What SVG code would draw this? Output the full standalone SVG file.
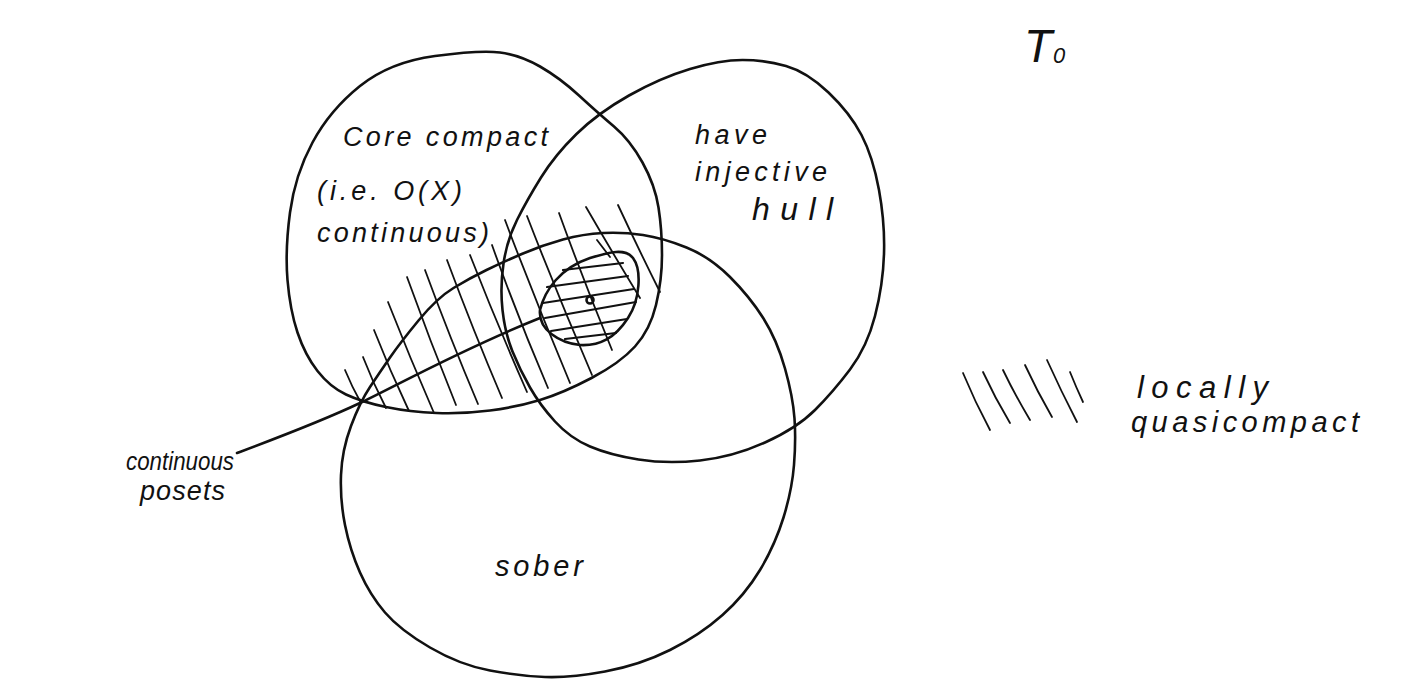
<svg xmlns="http://www.w3.org/2000/svg" width="1406" height="686" viewBox="0 0 1406 686">
<style>
.ln{fill:none;stroke:#111;stroke-width:2.6;stroke-linecap:round;stroke-linejoin:round}
.h{fill:none;stroke:#111;stroke-width:1.8;stroke-linecap:round}
.hx{fill:none;stroke:#111;stroke-width:2.2;stroke-linecap:round}
.t{font-family:"Liberation Sans","DejaVu Sans",sans-serif;font-style:italic;font-size:27px;fill:#111}
</style>
<rect width="1406" height="686" fill="#fff"/>
<g id="title">
<text class="t" x="1024" y="62" style="font-size:46px">T<tspan dx="1" dy="1" style="font-size:22px">0</tspan></text>
</g>
<g id="core-compact">
<path class="ln" d="M 500,52.5 Q 480,50 435,56 Q 390,62 360,86 Q 330,110 312.5,142.5 Q 295,175 290,212.5 Q 285,250 287.5,280 Q 290,310 297.5,332.5 Q 305,355 317.5,371 Q 330,387 346,394.5 Q 362,402 386,407 Q 410,412 436.5,413 Q 463,414 490,410.5 Q 517,407 540,400 Q 563,393 591.5,378 Q 620,363 635,346.5 Q 650,330 656,305 Q 662,280 662,255 Q 662,230 658.5,207.5 Q 655,185 642.5,162.5 Q 630,140 614,126.5 Q 598,113 579,95.5 Q 560,78 540,66.5 Q 520,55 500,52.5 Z"/>
<text class="t" x="343" y="146" textLength="205">Core compact</text>
<text class="t" x="317" y="200" textLength="145">(i.e. O(X)</text>
<text class="t" x="317" y="242" textLength="172">continuous)</text>
</g>
<g id="injective-hull">
<path class="ln" d="M 742.5,60 Q 720,60 690,69 Q 660,78 629,95.5 Q 598,113 576.5,134 Q 555,155 541,177.5 Q 527,200 517,220 Q 507,240 503.5,263.5 Q 500,287 502.5,310 Q 505,333 512.5,351.5 Q 520,370 530,387.5 Q 540,405 555,421.5 Q 570,438 590,446.5 Q 610,455 638.5,459.5 Q 667,464 700,460.5 Q 733,457 765,442.5 Q 797,428 815,410 Q 833,392 850,369.5 Q 867,347 875,316 Q 883,285 884,254 Q 885,223 879,190 Q 873,157 861.5,135 Q 850,113 828.5,92.5 Q 807,72 786,66 Q 765,60 742.5,60 Z"/>
<text class="t" x="695" y="144" textLength="72">have</text>
<text class="t" x="695" y="181" textLength="132">injective</text>
<text class="t" x="752" y="220" textLength="81" style="font-size:32px">hull</text>
</g>
<g id="sober">
<path class="ln" d="M 351,426 Q 360,402 370,387 Q 380,372 390,357.5 Q 400,343 418.5,320.5 Q 437,298 453.5,288 Q 470,278 486.5,270 Q 503,262 523,253.5 Q 543,245 563,239.5 Q 583,234 603,233 Q 623,232 643,235 Q 663,238 686.5,247.5 Q 710,257 730,277 Q 750,297 763.5,318.5 Q 777,340 785,368.5 Q 793,397 794.5,418.5 Q 796,440 794,465 Q 792,490 783.5,517.5 Q 775,545 760,570 Q 745,595 722.5,615 Q 700,635 670,650 Q 640,665 605,671.5 Q 570,678 545,677 Q 520,676 490,670.5 Q 460,665 430,647.5 Q 400,630 385,612.5 Q 370,595 360,572.5 Q 350,550 345,525 Q 340,500 341,475 Q 342,450 351,426 Z"/>
<text class="t" x="495" y="576" textLength="88" style="font-size:29px">sober</text>
</g>
<g id="core-point">
<path class="ln" d="M 540,310 C 545,290 560,268 590,258 C 610,252 625,248 633,258 C 642,270 640,300 628,318 C 615,338 600,346 580,345 C 560,343 538,330 540,310 Z"/>
<circle cx="590" cy="300" r="3.5" class="ln" stroke-width="2"/>
<g class="hx">
<line x1="563" y1="270" x2="623" y2="263"/>
<line x1="547" y1="287" x2="628" y2="276"/>
<line x1="543" y1="303" x2="634" y2="289"/>
<line x1="545" y1="318" x2="636" y2="302"/>
<line x1="551" y1="331" x2="627" y2="319"/>
<line x1="565" y1="339" x2="616" y2="333"/>
</g>
</g>
<g id="hatching" class="h">
<path d="M345,370 Q352,387 361,403"/>
<path d="M363,357 Q373,383 386,408"/>
<path d="M374,330 Q390,371 409,411"/>
<path d="M388,302 Q410,358 434,413"/>
<path d="M407,277 Q430,341 456,405"/>
<path d="M425,270 Q450,338 478,404"/>
<path d="M447,260 Q473,330 502,398"/>
<path d="M470,255 Q497,324 527,392"/>
<path d="M492,245 Q518,318 548,388"/>
<path d="M505,220 Q536,302 570,383"/>
<path d="M527,216 Q558,296 592,375"/>
<path d="M559,213 Q584,282 612,350"/>
<path d="M586,207 Q612,252 640,298"/>
<path d="M618,205 Q638,248 660,292"/>
<path d="M597,240 L610,257"/>
</g>
<g id="connectors">
<path class="ln" d="M 237,453 C 277,438 320,422 360,403 C 400,384 460,350 540,318"/>
</g>
<g id="continuous-posets">
<text class="t" x="126" y="470" textLength="108" lengthAdjust="spacingAndGlyphs" style="font-size:25px">continuous</text>
<text class="t" x="140" y="500" textLength="85">posets</text>
</g>
<g id="legend">
<g class="h" stroke-width="2">
<path d="M963,373 Q975,402 990,430"/>
<path d="M983,372 Q995,398 1010,423"/>
<path d="M1003,370 Q1015,395 1030,420"/>
<path d="M1025,365 Q1037,391 1052,417"/>
<path d="M1047,360 Q1061,391 1077,422"/>
<path d="M1070,372 Q1076,387 1083,402"/>
</g>
<text class="t" x="1137" y="398" textLength="131" style="font-size:31px">locally</text>
<text class="t" x="1131" y="432" textLength="228" style="font-size:29px">quasicompact</text>
</g>
</svg>
